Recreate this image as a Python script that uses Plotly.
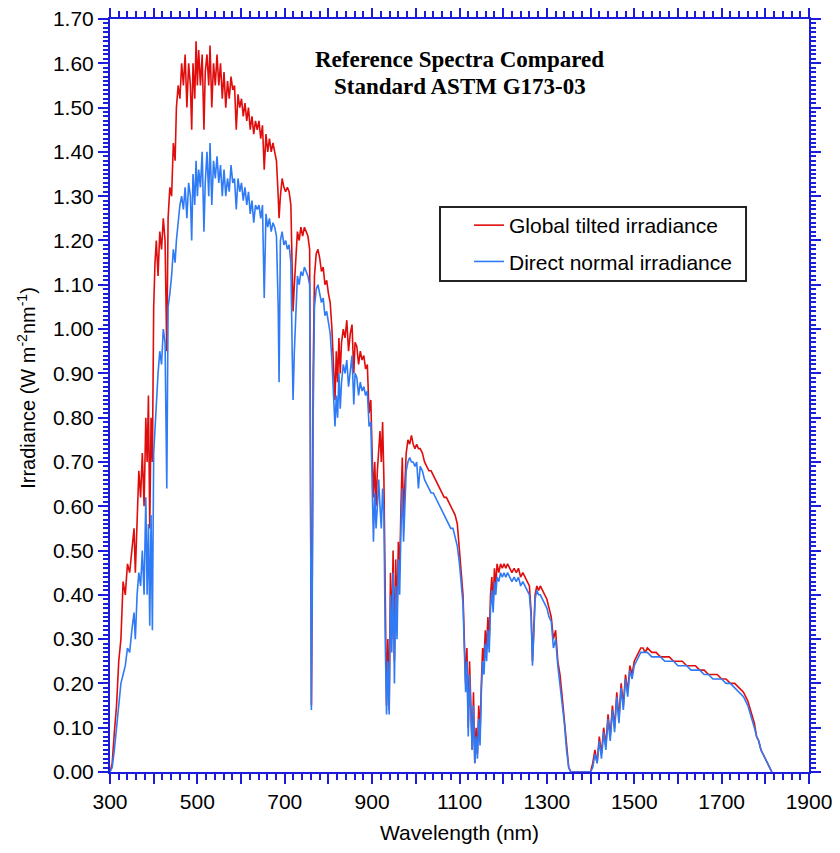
import plotly.graph_objects as go

wavelength = [300, 305, 310, 315, 320, 325, 330, 335, 340, 345, 350, 355, 358, 362, 366, 370, 374, 378, 382, 385,
              388, 391, 394, 397, 400, 403, 406, 410, 414, 418, 422, 426, 430, 433, 437, 441, 445, 449, 452, 456,
              460, 464, 468, 472, 476, 480, 484, 487, 490, 494, 497, 500, 503, 507, 511, 515, 518, 522, 526, 529,
              533, 537, 541, 545, 549, 553, 557, 561, 565, 569, 573, 577, 581, 585, 589, 593, 597, 601, 605, 609,
              613, 617, 621, 625, 629, 633, 637, 641, 645, 649, 653, 657, 661, 665, 669, 673, 677, 681, 685, 687,
              690, 694, 698, 702, 706, 710, 714, 717, 719, 722, 726, 729, 733, 737, 741, 745, 749, 753, 757, 759,
              761, 763, 765, 768, 772, 776, 780, 784, 788, 792, 796, 800, 804, 808, 812, 815, 818, 821, 824, 827,
              830, 834, 838, 842, 846, 850, 854, 858, 861, 865, 869, 873, 877, 881, 885, 889, 893, 897, 900, 903,
              906, 909, 912, 915, 918, 921, 924, 927, 930, 933, 936, 939, 942, 945, 948, 951, 954, 957, 960, 963,
              966, 969, 972, 975, 978, 982, 986, 990, 994, 998, 1002, 1006, 1010, 1015, 1020, 1025, 1030, 1035, 1040, 1045,
              1050, 1055, 1060, 1065, 1070, 1075, 1080, 1085, 1090, 1095, 1100, 1104, 1108, 1111, 1114, 1117, 1120, 1123, 1126, 1129,
              1132, 1135, 1138, 1141, 1144, 1147, 1150, 1153, 1156, 1159, 1162, 1165, 1168, 1171, 1174, 1177, 1180, 1183, 1186, 1190,
              1194, 1198, 1202, 1206, 1210, 1215, 1220, 1225, 1230, 1235, 1240, 1245, 1250, 1255, 1260, 1264, 1267, 1270, 1273, 1277,
              1281, 1285, 1290, 1295, 1300, 1305, 1310, 1315, 1320, 1325, 1330, 1335, 1340, 1345, 1350, 1355, 1400, 1405, 1410, 1415,
              1420, 1425, 1430, 1435, 1440, 1445, 1450, 1455, 1460, 1465, 1470, 1475, 1480, 1485, 1490, 1495, 1500, 1505, 1510, 1515,
              1520, 1525, 1530, 1540, 1550, 1560, 1570, 1580, 1590, 1600, 1610, 1620, 1630, 1640, 1650, 1660, 1670, 1680, 1690, 1700,
              1710, 1720, 1730, 1740, 1750, 1760, 1770, 1775, 1780, 1785, 1790, 1795, 1800, 1805, 1810, 1815]

global_tilted = [0.00, 0.02, 0.09, 0.15, 0.25, 0.30, 0.43, 0.40, 0.47, 0.45, 0.50, 0.55, 0.45, 0.58, 0.68, 0.62, 0.72, 0.60, 0.80, 0.70,
                 0.85, 0.55, 0.80, 0.70, 1.05, 1.15, 1.20, 1.12, 1.22, 1.18, 1.25, 1.20, 0.95, 1.25, 1.32, 1.30, 1.42, 1.38, 1.50, 1.55,
                 1.52, 1.60, 1.55, 1.62, 1.50, 1.60, 1.55, 1.45, 1.60, 1.52, 1.65, 1.55, 1.63, 1.55, 1.62, 1.45, 1.58, 1.62, 1.55, 1.64,
                 1.50, 1.60, 1.55, 1.62, 1.55, 1.60, 1.52, 1.58, 1.50, 1.56, 1.52, 1.57, 1.54, 1.55, 1.45, 1.53, 1.50, 1.52, 1.48, 1.51,
                 1.47, 1.50, 1.45, 1.48, 1.44, 1.47, 1.45, 1.47, 1.43, 1.46, 1.36, 1.44, 1.40, 1.43, 1.40, 1.42, 1.40, 1.38, 1.30, 1.25,
                 1.30, 1.34, 1.32, 1.31, 1.32, 1.31, 1.28, 1.10, 1.04, 1.10, 1.18, 1.22, 1.20, 1.23, 1.21, 1.23, 1.22, 1.21, 1.18, 0.60,
                 0.15, 0.45, 0.90, 1.12, 1.17, 1.18, 1.16, 1.13, 1.14, 1.10, 1.11, 1.08, 1.06, 1.00, 0.92, 0.84, 0.95, 0.88, 0.98, 0.90,
                 0.97, 1.00, 0.98, 1.02, 0.95, 0.99, 1.01, 0.90, 0.97, 0.96, 0.92, 0.95, 0.93, 0.94, 0.91, 0.92, 0.81, 0.84, 0.72, 0.62,
                 0.70, 0.60, 0.68, 0.74, 0.77, 0.70, 0.79, 0.66, 0.35, 0.15, 0.30, 0.14, 0.45, 0.30, 0.50, 0.25, 0.48, 0.35, 0.52, 0.45,
                 0.60, 0.71, 0.58, 0.66, 0.72, 0.75, 0.74, 0.76, 0.74, 0.73, 0.74, 0.73, 0.73, 0.72, 0.70, 0.69, 0.68, 0.68, 0.67, 0.66,
                 0.65, 0.64, 0.63, 0.62, 0.62, 0.61, 0.60, 0.59, 0.58, 0.56, 0.50, 0.45, 0.40, 0.30, 0.20, 0.28, 0.10, 0.25, 0.15, 0.05,
                 0.18, 0.02, 0.10, 0.04, 0.15, 0.08, 0.20, 0.28, 0.25, 0.32, 0.28, 0.35, 0.30, 0.40, 0.44, 0.38, 0.46, 0.42, 0.47, 0.45,
                 0.47, 0.46, 0.47, 0.46, 0.47, 0.46, 0.45, 0.46, 0.45, 0.46, 0.44, 0.45, 0.44, 0.43, 0.42, 0.36, 0.25, 0.32, 0.40, 0.42,
                 0.41, 0.42, 0.41, 0.40, 0.39, 0.37, 0.35, 0.30, 0.32, 0.25, 0.22, 0.17, 0.12, 0.06, 0.01, 0.00, 0.00, 0.02, 0.05, 0.02,
                 0.08, 0.04, 0.10, 0.06, 0.13, 0.08, 0.15, 0.10, 0.18, 0.12, 0.20, 0.15, 0.22, 0.18, 0.24, 0.22, 0.25, 0.26, 0.27, 0.28,
                 0.28, 0.27, 0.28, 0.27, 0.27, 0.26, 0.26, 0.26, 0.25, 0.25, 0.25, 0.24, 0.24, 0.24, 0.23, 0.23, 0.22, 0.22, 0.22, 0.21,
                 0.21, 0.20, 0.20, 0.19, 0.18, 0.16, 0.13, 0.11, 0.08, 0.07, 0.05, 0.04, 0.03, 0.02, 0.01, 0.00]

direct_normal = [0.00, 0.01, 0.05, 0.10, 0.14, 0.20, 0.22, 0.24, 0.28, 0.27, 0.32, 0.36, 0.30, 0.40, 0.45, 0.42, 0.50, 0.40, 0.62, 0.40,
                 0.56, 0.33, 0.58, 0.32, 0.72, 0.78, 0.85, 0.90, 0.95, 0.92, 1.00, 0.97, 0.64, 1.05, 1.08, 1.12, 1.18, 1.15, 1.20, 1.25,
                 1.28, 1.30, 1.27, 1.32, 1.25, 1.33, 1.30, 1.20, 1.35, 1.28, 1.38, 1.30, 1.36, 1.32, 1.40, 1.22, 1.33, 1.40, 1.30, 1.42,
                 1.28, 1.38, 1.34, 1.39, 1.33, 1.37, 1.30, 1.36, 1.30, 1.34, 1.31, 1.37, 1.33, 1.34, 1.27, 1.34, 1.31, 1.33, 1.29, 1.32,
                 1.28, 1.31, 1.26, 1.29, 1.24, 1.28, 1.27, 1.28, 1.25, 1.28, 1.07, 1.26, 1.23, 1.25, 1.22, 1.24, 1.23, 1.21, 1.05, 0.88,
                 1.20, 1.22, 1.19, 1.20, 1.18, 1.19, 1.15, 0.95, 0.84, 0.95, 1.05, 1.12, 1.10, 1.13, 1.12, 1.14, 1.13, 1.12, 1.10, 0.50,
                 0.14, 0.40, 0.80, 1.05, 1.09, 1.10, 1.08, 1.06, 1.07, 1.03, 1.04, 1.01, 0.99, 0.93, 0.84, 0.78, 0.85, 0.80, 0.90, 0.82,
                 0.88, 0.92, 0.90, 0.93, 0.87, 0.91, 0.94, 0.83, 0.90, 0.89, 0.85, 0.88, 0.86, 0.87, 0.85, 0.86, 0.78, 0.79, 0.62, 0.52,
                 0.63, 0.55, 0.60, 0.66, 0.60, 0.55, 0.64, 0.58, 0.30, 0.13, 0.25, 0.13, 0.40, 0.27, 0.45, 0.20, 0.42, 0.30, 0.48, 0.40,
                 0.55, 0.64, 0.52, 0.60, 0.68, 0.70, 0.71, 0.70, 0.70, 0.69, 0.70, 0.64, 0.69, 0.68, 0.66, 0.65, 0.64, 0.63, 0.63, 0.62,
                 0.61, 0.60, 0.59, 0.58, 0.57, 0.56, 0.55, 0.55, 0.53, 0.51, 0.47, 0.42, 0.38, 0.28, 0.18, 0.25, 0.08, 0.22, 0.12, 0.05,
                 0.15, 0.02, 0.08, 0.03, 0.12, 0.06, 0.18, 0.25, 0.22, 0.29, 0.25, 0.32, 0.27, 0.37, 0.41, 0.36, 0.43, 0.40, 0.44, 0.43,
                 0.45, 0.44, 0.45, 0.44, 0.45, 0.44, 0.43, 0.44, 0.43, 0.44, 0.42, 0.43, 0.42, 0.41, 0.40, 0.35, 0.24, 0.31, 0.39, 0.41,
                 0.40, 0.40, 0.39, 0.38, 0.37, 0.35, 0.34, 0.28, 0.30, 0.24, 0.20, 0.16, 0.11, 0.05, 0.01, 0.00, 0.00, 0.01, 0.04, 0.02,
                 0.07, 0.03, 0.09, 0.05, 0.12, 0.07, 0.14, 0.09, 0.17, 0.11, 0.19, 0.14, 0.21, 0.17, 0.23, 0.21, 0.24, 0.25, 0.26, 0.27,
                 0.27, 0.27, 0.27, 0.26, 0.26, 0.26, 0.25, 0.25, 0.25, 0.24, 0.24, 0.24, 0.23, 0.23, 0.23, 0.22, 0.22, 0.21, 0.21, 0.21,
                 0.20, 0.20, 0.19, 0.18, 0.17, 0.15, 0.12, 0.10, 0.08, 0.07, 0.05, 0.04, 0.03, 0.02, 0.01, 0.00]

x_tick_values = [300, 400, 500, 600, 700, 800, 900, 1000, 1100, 1200, 1300, 1400, 1500, 1600, 1700, 1800, 1900]
x_tick_labels = ["300", "", "500", "", "700", "", "900", "", "1100", "", "1300", "", "1500", "", "1700", "", "1900"]
y_tick_values = [0.0, 0.1, 0.2, 0.3, 0.4, 0.5, 0.6, 0.7, 0.8, 0.9, 1.0, 1.1, 1.2, 1.3, 1.4, 1.5, 1.6, 1.7]

RED = "#e00d0d"
BLUE = "#2f7bf5"
AXIS = "#1c1cdc"
FONT = "Liberation Sans, Arial, sans-serif"
SERIF = "Liberation Serif, Times New Roman, serif"

fig = go.Figure()
fig.add_trace(go.Scatter(x=wavelength, y=global_tilted, mode="lines", name="Global tilted irradiance",
                         legendgroup="g", line=dict(color=RED, width=1.6)))
fig.add_trace(go.Scatter(x=wavelength, y=direct_normal, mode="lines", name="Direct normal irradiance",
                         legendgroup="d", line=dict(color=BLUE, width=1.6)))

# page body has an 8px margin: keep the figure inside the 840x853 window
fig.update_layout(
    width=824, height=837,
    margin=dict(l=102, r=23, t=11, b=73),
    paper_bgcolor="white", plot_bgcolor="white",
    font=dict(family=FONT, size=21, color="black"),
    showlegend=True,
    legend=dict(x=0.5136, y=0.753, xanchor="left", yanchor="top",
                borderwidth=0, bgcolor="rgba(0,0,0,0)",
                tracegroupgap=6, font=dict(family=FONT, size=21)),
)

# legend frame
fig.add_shape(type="rect", xref="paper", yref="paper", x0=0.4721, x1=0.9099, y0=0.652, y1=0.7503,
              line=dict(color="#222222", width=2), fillcolor="white", layer="above")

fig.update_xaxes(range=[300, 1900], tickvals=x_tick_values, ticktext=x_tick_labels, automargin=False,
                 ticklabeloverflow="allow",
                 showgrid=False, zeroline=False, showline=True, linecolor=AXIS, linewidth=2,
                 mirror="allticks", ticks="outside", ticklen=10, tickwidth=2, tickcolor=AXIS,
                 tickfont=dict(family=FONT, size=21, color="black"),
                 minor=dict(dtick=20, ticklen=6, tickwidth=1.5, tickcolor=AXIS, ticks="outside", showgrid=False))
fig.update_yaxes(range=[0, 1.70], tickvals=y_tick_values, tickformat=".2f", automargin=False,
                 ticklabeloverflow="allow",
                 showgrid=False, zeroline=False, showline=True, linecolor=AXIS, linewidth=2,
                 mirror="allticks", ticks="outside", ticklen=10, tickwidth=2, tickcolor=AXIS,
                 tickfont=dict(family=FONT, size=21, color="black"),
                 minor=dict(dtick=0.01, tick0=0, ticklen=5, tickwidth=1.5, tickcolor=AXIS, ticks="outside", showgrid=False))

fig.add_annotation(text="<b>Reference Spectra Compared</b>", xref="paper", yref="paper",
                   x=0.5007, y=0.9456, xanchor="center", yanchor="middle", showarrow=False,
                   font=dict(family=SERIF, size=23, color="black"))
fig.add_annotation(text="<b>Standard ASTM G173-03</b>", xref="paper", yref="paper",
                   x=0.5007, y=0.911, xanchor="center", yanchor="middle", showarrow=False,
                   font=dict(family=SERIF, size=23, color="black"))
fig.add_annotation(text="Wavelength (nm)", xref="paper", yref="paper", x=0.5, y=-0.081,
                   xanchor="center", yanchor="middle", showarrow=False,
                   font=dict(family=FONT, size=21, color="black"))
fig.add_annotation(text="Irradiance (W m<sup>-2</sup>nm<sup>-1</sup>)", xref="paper", yref="paper",
                   x=-0.119, y=0.51, xanchor="center", yanchor="middle", textangle=-90, showarrow=False,
                   font=dict(family=FONT, size=20, color="black"))

fig.write_html("out.html")
